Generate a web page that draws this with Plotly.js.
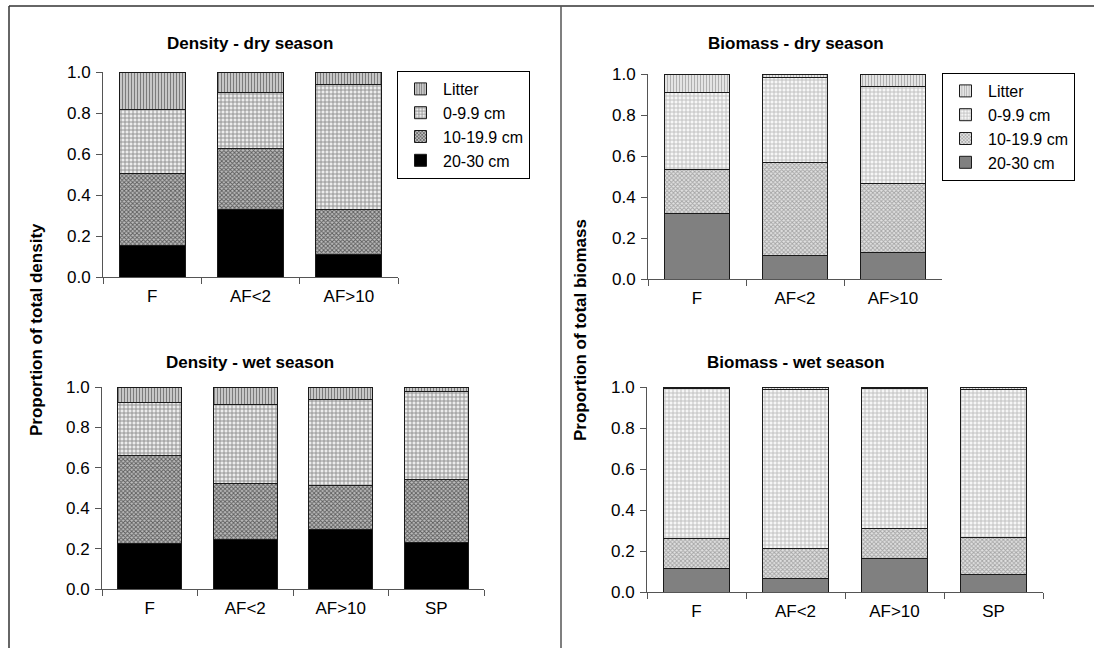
<!DOCTYPE html>
<html>
<head>
<meta charset="utf-8">
<script src="https://cdn.plot.ly/plotly-3.0.1.min.js"></script>
<style>html,body{margin:0;padding:0;background:#fff;}#chart{width:1094px;height:648px;}</style>
</head>
<body>
<div id="chart"></div>
<script>
// ---- data ----
const dryCategories = ['F', 'AF<2', 'AF>10'];
const wetCategories = ['F', 'AF<2', 'AF>10', 'SP'];
const seriesNames = ['20-30 cm', '10-19.9 cm', '0-9.9 cm', 'Litter'];

const densityDry20 = [0.156, 0.327, 0.111];
const densityDry10 = [0.350, 0.301, 0.219];
const densityDry0 = [0.312, 0.273, 0.610];
const densityDryLitter = [0.182, 0.099, 0.060];

const biomassDry20 = [0.318, 0.113, 0.127];
const biomassDry10 = [0.218, 0.455, 0.341];
const biomassDry0 = [0.375, 0.416, 0.470];
const biomassDryLitter = [0.089, 0.016, 0.062];

const densityWet20 = [0.224, 0.243, 0.293, 0.230];
const densityWet10 = [0.435, 0.277, 0.218, 0.314];
const densityWet0 = [0.263, 0.393, 0.428, 0.434];
const densityWetLitter = [0.078, 0.087, 0.061, 0.022];

const biomassWet20 = [0.117, 0.068, 0.163, 0.085];
const biomassWet10 = [0.143, 0.144, 0.148, 0.183];
const biomassWet0 = [0.732, 0.775, 0.682, 0.719];
const biomassWetLitter = [0.008, 0.013, 0.007, 0.013];

const yTicks = [0, 0.2, 0.4, 0.6, 0.8, 1.0];

// ---- styles ----
const FONT = 'Liberation Sans, Arial, sans-serif';
const W = 1094, H = 648;
const densityStyles = [
  {color: '#000000'},
  {color: '#9a9a9a', pattern: {shape: 'x', size: 3, solidity: 0.5, fgcolor: '#5c5c5c', bgcolor: '#bdbdbd', fillmode: 'replace'}},
  {color: '#d0d0d0', pattern: {shape: '+', size: 4, solidity: 0.4, fgcolor: '#8c8c8c', bgcolor: '#ececec', fillmode: 'replace'}},
  {color: '#b0b0b0', pattern: {shape: '|', size: 3, solidity: 0.4, fgcolor: '#7c7c7c', bgcolor: '#cfcfcf', fillmode: 'replace'}}
];
const biomassStyles = [
  {color: '#808080'},
  {color: '#d0d0d0', pattern: {shape: 'x', size: 3, solidity: 0.5, fgcolor: '#a4a4a4', bgcolor: '#e2e2e2', fillmode: 'replace'}},
  {color: '#e4e4e4', pattern: {shape: '+', size: 4, solidity: 0.4, fgcolor: '#bcbcbc', bgcolor: '#f6f6f6', fillmode: 'replace'}},
  {color: '#dcdcdc', pattern: {shape: '|', size: 3, solidity: 0.4, fgcolor: '#b0b0b0', bgcolor: '#eaeaea', fillmode: 'replace'}}
];

function makeTraces(cats, seriesList, styles, xa, ya, legendName) {
  return seriesList.map((vals, i) => {
    const t = {
      type: 'bar', x: cats, y: vals, name: seriesNames[i],
      xaxis: xa, yaxis: ya,
      marker: Object.assign({line: {color: '#1a1a1a', width: 1}}, styles[i]),
      showlegend: !!legendName, hoverinfo: 'skip'
    };
    if (legendName) t.legend = legendName;
    return t;
  });
}

const data = [].concat(
  makeTraces(dryCategories, [densityDry20, densityDry10, densityDry0, densityDryLitter], densityStyles, 'x', 'y', 'legend'),
  makeTraces(dryCategories, [biomassDry20, biomassDry10, biomassDry0, biomassDryLitter], biomassStyles, 'x2', 'y2', 'legend2'),
  makeTraces(wetCategories, [densityWet20, densityWet10, densityWet0, densityWetLitter], densityStyles, 'x3', 'y3', null),
  makeTraces(wetCategories, [biomassWet20, biomassWet10, biomassWet0, biomassWetLitter], biomassStyles, 'x4', 'y4', null)
);

function px2x(p) { return p / W; }
function px2y(p) { return 1 - p / H; }

function xAxis(x0, x1, anchor, n) {
  return {
    domain: [px2x(x0), px2x(x1)], anchor: anchor, type: 'category',
    range: [-0.5, n - 0.5], fixedrange: true,
    showline: true, linecolor: '#555', linewidth: 1,
    ticks: 'outside', ticklen: 6, tickcolor: '#555', tickson: 'boundaries',
    ticklabelstandoff: 4,
    showgrid: false, zeroline: false,
    tickfont: {family: FONT, size: 17, color: '#000'}
  };
}
function yAxis(y0px, y1px, anchor) {
  return {
    domain: [px2y(y0px), px2y(y1px)], anchor: anchor,
    range: [0, 1], fixedrange: true,
    tickvals: yTicks, tickformat: '.1f',
    showline: true, linecolor: '#555', linewidth: 1,
    ticks: 'outside', ticklen: 6, tickcolor: '#555',
    ticklabelstandoff: 2,
    showgrid: false, zeroline: false,
    tickfont: {family: FONT, size: 17, color: '#000'}
  };
}

function ann(text, xpx, ypx, opts) {
  return Object.assign({
    text: text, xref: 'paper', yref: 'paper', x: px2x(xpx), y: px2y(ypx),
    xanchor: 'center', yanchor: 'middle', showarrow: false,
    font: {family: FONT, size: 17, color: '#000', weight: 'bold'}
  }, opts || {});
}

const legendBase = {
  xanchor: 'left', yanchor: 'top', traceorder: 'reversed',
  bgcolor: '#fff', bordercolor: '#000', borderwidth: 1,
  itemwidth: 35,
  font: {family: FONT, size: 16, color: '#000'},
  itemclick: false, itemdoubleclick: false
};

const layout = {
  width: W, height: H,
  margin: {l: 0, r: 0, t: 0, b: 0},
  paper_bgcolor: '#fff', plot_bgcolor: 'rgba(0,0,0,0)',
  barmode: 'stack', bargap: 0.33,
  font: {family: FONT, size: 16, color: '#000'},
  xaxis: xAxis(103, 398, 'y', 3),
  yaxis: yAxis(277, 72, 'x'),
  xaxis2: xAxis(648, 942, 'y2', 3),
  yaxis2: yAxis(279, 74, 'x2'),
  xaxis3: xAxis(102, 484, 'y3', 4),
  yaxis3: yAxis(589, 387, 'x3'),
  xaxis4: xAxis(647, 1043, 'y4', 4),
  yaxis4: yAxis(592, 387, 'x4'),
  legend: Object.assign({x: px2x(397), y: px2y(71)}, legendBase),
  legend2: Object.assign({x: px2x(942), y: px2y(73)}, legendBase),
  annotations: [
    ann('Density - dry season', 250, 44),
    ann('Biomass - dry season', 796, 44),
    ann('Density - wet season', 250, 362),
    ann('Biomass - wet season', 796, 362),
    ann('Proportion of total density', 36, 330, {textangle: -90}),
    ann('Proportion of total biomass', 580, 330, {textangle: -90})
  ],
  shapes: [
    {type: 'line', xref: 'paper', yref: 'paper', x0: px2x(9), x1: px2x(9), y0: px2y(6), y1: 0, line: {color: '#333', width: 1.5}},
    {type: 'line', xref: 'paper', yref: 'paper', x0: px2x(9), x1: 1, y0: px2y(6), y1: px2y(6), line: {color: '#333', width: 1.5}},
    {type: 'line', xref: 'paper', yref: 'paper', x0: px2x(561), x1: px2x(561), y0: px2y(6), y1: 0, line: {color: '#555', width: 1.5}}
  ]
};

Plotly.newPlot('chart', data, layout, {staticPlot: true, displayModeBar: false});
</script>
</body>
</html>
